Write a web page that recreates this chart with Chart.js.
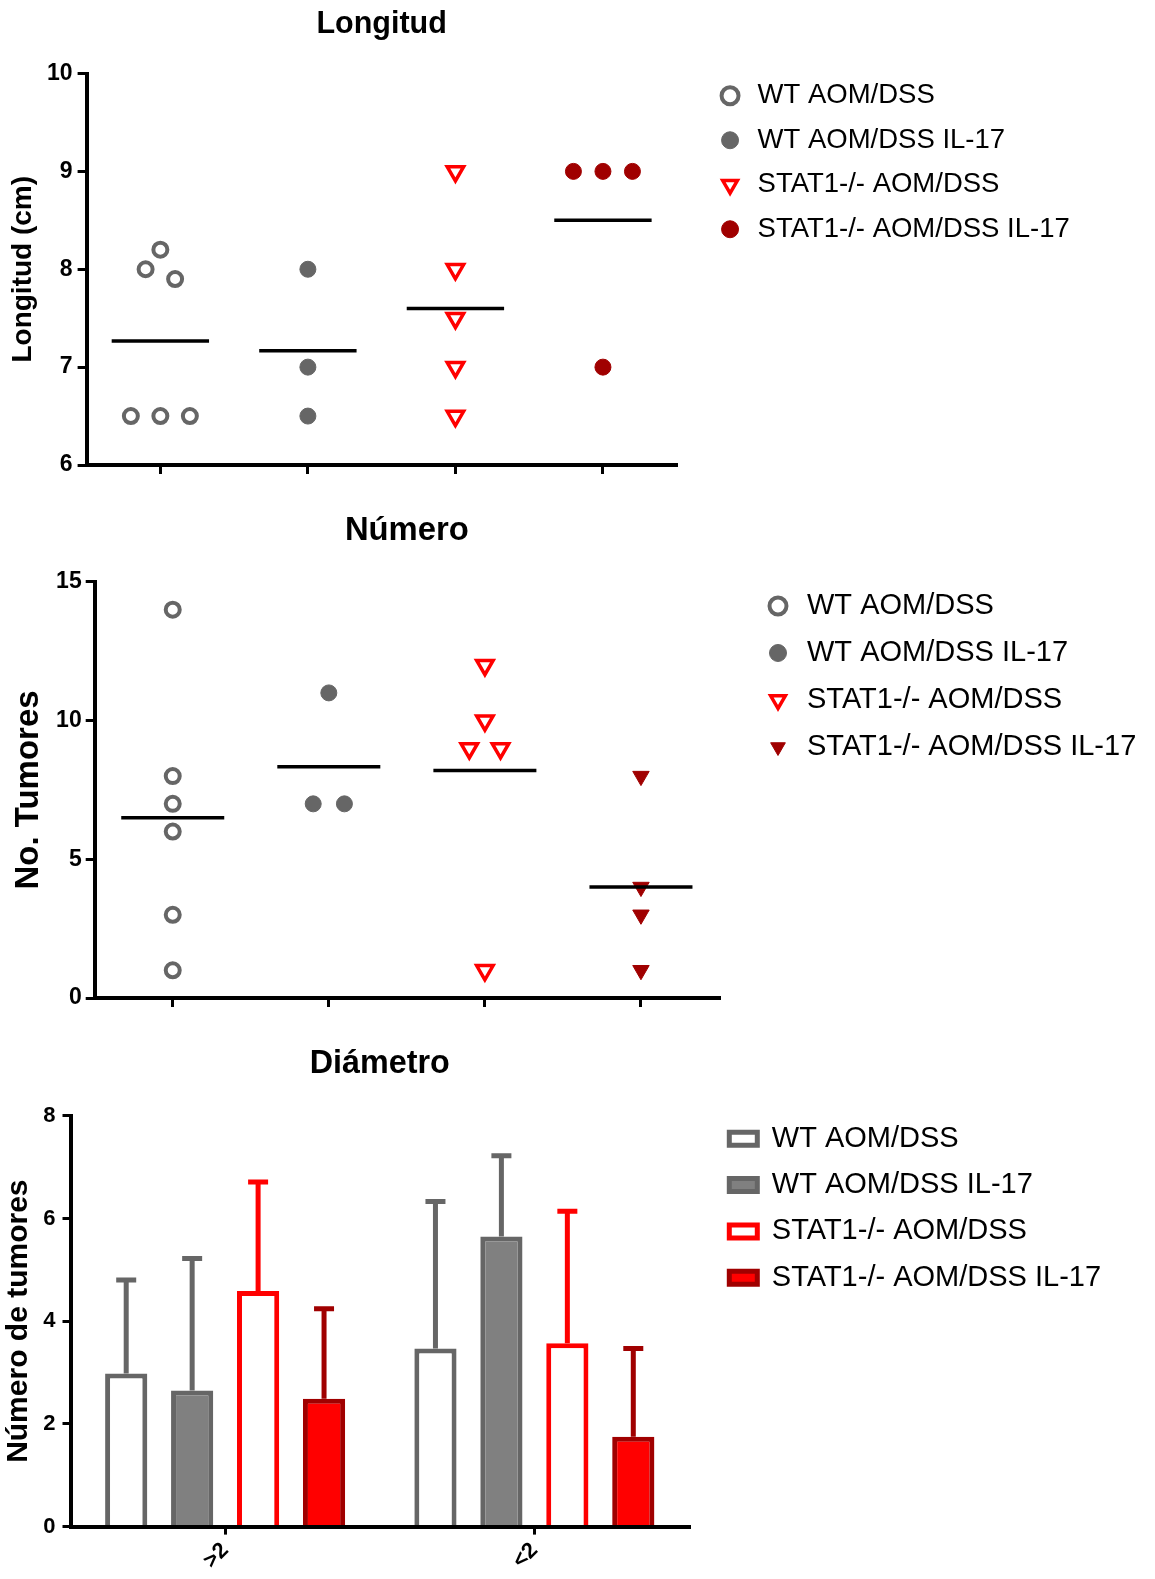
<!DOCTYPE html>
<html>
<head>
<meta charset="utf-8">
<script src="https://cdn.jsdelivr.net/npm/chart.js@4.4.1/dist/chart.umd.min.js"></script>
<style>
  html, body { margin: 0; padding: 0; background: #ffffff; }
  .panel { position: absolute; left: 0; width: 1155px; }
  canvas { display: block; }
</style>
</head>
<body>
<div class="panel" style="top:0;height:500px"><canvas id="c1" width="1155" height="500"></canvas></div>
<div class="panel" style="top:500px;height:530px"><canvas id="c2" width="1155" height="530"></canvas></div>
<div class="panel" style="top:1030px;height:549px"><canvas id="c3" width="1155" height="549"></canvas></div>
<script>
// ---------------- DATA ----------------
const grupos = ['WT AOM/DSS', 'WT AOM/DSS IL-17', 'STAT1-/- AOM/DSS', 'STAT1-/- AOM/DSS IL-17'];

// Longitud (cm)
const longitudWT        = [8.2, 8.0, 7.9, 6.5, 6.5, 6.5];
const longitudWTIL17    = [8.0, 7.0, 6.5];
const longitudSTAT1     = [9.0, 8.0, 7.5, 7.0, 6.5];
const longitudSTAT1IL17 = [9.0, 9.0, 9.0, 7.0];
const longitudTicks     = [6, 7, 8, 9, 10];

// No. Tumores
const numeroWT        = [14, 8, 7, 6, 3, 1];
const numeroWTIL17    = [11, 7, 7];
const numeroSTAT1     = [12, 10, 9, 9, 1];
const numeroSTAT1IL17 = [8, 4, 3, 1];
const numeroTicks     = [0, 5, 10, 15];

// Diámetro: media y desviación (barra de error superior)
const diametroCategorias = ['>2', '<2'];
const diamWT          = [2.98, 3.47];
const diamWTsd        = [1.82, 2.86];
const diamWTIL17      = [2.65, 5.65];
const diamWTIL17sd    = [2.57, 1.57];
const diamSTAT1       = [4.59, 3.57];
const diamSTAT1sd     = [2.12, 2.57];
const diamSTAT1IL17   = [2.49, 1.75];
const diamSTAT1IL17sd = [1.75, 1.72];
const diametroTicks   = [0, 2, 4, 6, 8];

// ---------------- STYLE ----------------
const GRIS = '#666666', GRIS_RELLENO = '#808080', ROJO = '#ff0000', ROJO_OSCURO = '#a00000';
const FAMILIA = "'Liberation Sans', Arial, Helvetica, sans-serif";
Chart.defaults.font.family = FAMILIA;
Chart.defaults.color = '#000000';

// Legend placement plugin (moves the legend box to a fixed spot)
const posLeyenda = {
  id: 'posLeyenda',
  afterLayout(chart, args, opts) {
    const lg = chart.legend;
    if (!lg || opts.x == null) return;
    lg.left = opts.x; lg.top = opts.y;
    lg.right = chart.width; lg.bottom = chart.height;
  }
};

// Error bars (upper only) drawn through the y scale
const barrasError = {
  id: 'barrasError',
  afterDatasetsDraw(chart, args, opts) {
    const ctx = chart.ctx, ys = chart.scales.y;
    chart.data.datasets.forEach((ds, d) => {
      if (!ds.sd) return;
      const meta = chart.getDatasetMeta(d);
      meta.data.forEach((bar, i) => {
        const tope = ys.getPixelForValue(ds.data[i] + ds.sd[i]);
        ctx.save();
        ctx.strokeStyle = ds.colorError;
        ctx.lineWidth = opts.grosor;
        ctx.lineCap = 'butt';
        ctx.beginPath();
        ctx.moveTo(bar.x, bar.y);
        ctx.lineTo(bar.x, tope);
        ctx.moveTo(bar.x - opts.tapa, tope);
        ctx.lineTo(bar.x + opts.tapa, tope);
        ctx.stroke();
        ctx.restore();
      });
    });
  }
};

// simple deterministic beeswarm (offsets in category units)
function enjambre(vals, pxX, pxY, paso, distMin) {
  const off = vals.map(() => null);
  const colocados = [];
  const iguales = {};
  vals.forEach((v, i) => { (iguales[v] = iguales[v] || []).push(i); });
  Object.values(iguales).forEach(idx => {
    if (idx.length > 1) idx.forEach((k, j) => { off[k] = 2 * paso * (j - (idx.length - 1) / 2); colocados.push(k); });
  });
  vals.forEach((v, i) => {
    if (off[i] !== null) return;
    const cands = [0, -paso, paso, -2 * paso, 2 * paso, -3 * paso, 3 * paso];
    for (const c of cands) {
      const ok = colocados.every(k => Math.hypot((off[k] - c) * pxX, (vals[k] - v) * pxY) >= distMin);
      if (ok) { off[i] = c; break; }
    }
    if (off[i] === null) off[i] = 0;
    colocados.push(i);
  });
  return off;
}

function ejeComun(extra) {
  return Object.assign({
    grid: { display: true, drawOnChartArea: false, drawTicks: true, tickLength: 9, lineWidth: 3, color: '#000' },
    border: { display: true, color: '#000', width: 4 }
  }, extra);
}

function crearDispersion(id, conf) {
  const datasets = conf.series.map((vals, s) => Object.assign({
    label: grupos[s],
    data: vals.map(v => ({ x: s, y: v })),
    showLine: false
  }, conf.estilos[s]));
  conf.series.forEach((vals, s) => {
    const media = vals.reduce((a, b) => a + b, 0) / vals.length;
    datasets.push({
      label: 'Media', data: [{ x: s - 0.33, y: media }, { x: s + 0.33, y: media }],
      showLine: true, borderColor: '#000', backgroundColor: '#000', borderWidth: 3.5,
      pointRadius: 0, order: -1
    });
  });
  const nCat = conf.series.length;
  const chart = new Chart(document.getElementById(id), {
    type: 'scatter',
    data: { datasets },
    plugins: [posLeyenda],
    options: {
      responsive: false, animation: false, devicePixelRatio: 1,
      layout: { padding: { left: 0, top: 0, right: conf.padRight, bottom: 0 } },
      plugins: {
        tooltip: { enabled: false },
        title: { display: true, fullSize: false, text: conf.titulo, color: '#000',
                 font: { size: conf.tituloFont, weight: 'bold' }, padding: conf.tituloPad },
        legend: {
          display: true, position: 'right', align: 'start', maxWidth: 50,
          labels: { usePointStyle: true, boxWidth: conf.leyFont, boxHeight: 12, padding: conf.leyPad,
                    textAlign: 'left', color: '#000', font: { size: conf.leyFont },
                    filter: item => item.datasetIndex < nCat }
        },
        posLeyenda: conf.leyPos
      },
      scales: {
        x: ejeComun({
          type: 'linear', position: 'bottom', min: -0.5, max: nCat - 0.5,
          afterBuildTicks: s => { s.ticks = conf.series.map((_, i) => ({ value: i })); },
          ticks: { display: false },
          afterFit: s => { s.height = conf.altoX; }
        }),
        y: ejeComun({
          min: conf.ticks[0], max: conf.ticks[conf.ticks.length - 1],
          afterBuildTicks: s => { s.ticks = conf.ticks.map(v => ({ value: v })); },
          ticks: { color: '#000', font: { size: conf.tickFont, weight: 'bold' }, padding: conf.tickPad },
          title: { display: true, text: conf.tituloY, color: '#000',
                   font: { size: conf.tituloYFont, weight: 'bold' }, padding: { top: conf.tituloYPad, bottom: 0 } },
          afterFit: s => { s.width = conf.anchoY; }
        })
      }
    }
  });
  const xs = chart.scales.x, ys = chart.scales.y;
  const pxX = Math.abs(xs.getPixelForValue(1) - xs.getPixelForValue(0));
  const pxY = Math.abs(ys.getPixelForValue(1) - ys.getPixelForValue(0));
  conf.series.forEach((vals, s) => {
    const off = enjambre(vals, pxX, pxY, 0.1, 22);
    chart.data.datasets[s].data = vals.map((v, i) => ({ x: s + off[i], y: v }));
  });
  chart.update('none');
  return chart;
}

const estCirculoAbierto = { pointStyle: 'circle', pointRadius: 7, pointBorderWidth: 4, pointBackgroundColor: '#ffffff', pointBorderColor: GRIS, backgroundColor: '#ffffff', borderColor: GRIS, borderWidth: 4 };
const estCirculoGris    = { pointStyle: 'circle', pointRadius: 8, pointBorderWidth: 1, pointBackgroundColor: GRIS, pointBorderColor: GRIS, backgroundColor: GRIS, borderColor: GRIS, borderWidth: 1 };
const estTrianguloAbierto = { pointStyle: 'triangle', pointRotation: 180, pointRadius: 9.5, pointBorderWidth: 3.5, pointBackgroundColor: '#ffffff', pointBorderColor: ROJO, backgroundColor: '#ffffff', borderColor: ROJO, borderWidth: 3.5 };
const estCirculoRojo    = { pointStyle: 'circle', pointRadius: 8, pointBorderWidth: 1, pointBackgroundColor: ROJO_OSCURO, pointBorderColor: ROJO_OSCURO, backgroundColor: ROJO_OSCURO, borderColor: ROJO_OSCURO, borderWidth: 1 };
const estTrianguloRojo  = { pointStyle: 'triangle', pointRotation: 180, pointRadius: 9.5, pointBorderWidth: 1, pointBackgroundColor: ROJO_OSCURO, pointBorderColor: ROJO_OSCURO, backgroundColor: ROJO_OSCURO, borderColor: ROJO_OSCURO, borderWidth: 1 };

// ---------- Chart 1: Longitud ----------
crearDispersion('c1', {
  titulo: 'Longitud', tituloFont: 30.5, tituloPad: { top: 6.2, bottom: 30.7 },
  tituloY: 'Longitud (cm)', tituloYFont: 28, tituloYPad: 6,
  series: [longitudWT, longitudWTIL17, longitudSTAT1, longitudSTAT1IL17],
  estilos: [estCirculoAbierto, estCirculoGris, estTrianguloAbierto, estCirculoRojo],
  ticks: longitudTicks, tickFont: 23, tickPad: 5,
  anchoY: 86.6, altoX: 35, padRight: 428.3,
  leyFont: 27.5, leyPad: 17, leyPos: { x: 699.3, y: 65 }
});

// ---------- Chart 2: Número ----------
crearDispersion('c2', {
  titulo: 'Número', tituloFont: 32.8, tituloPad: { top: 10.9, bottom: 31.7 },
  tituloY: 'No. Tumores', tituloYFont: 33, tituloYPad: 9.4,
  series: [numeroWT, numeroWTIL17, numeroSTAT1, numeroSTAT1IL17],
  estilos: [estCirculoAbierto, estCirculoGris, estTrianguloAbierto, estTrianguloRojo],
  ticks: numeroTicks, tickFont: 23, tickPad: 4,
  anchoY: 94.7, altoX: 32, padRight: 386,
  leyFont: 29, leyPad: 18, leyPos: { x: 745.5, y: 73.5 }
});

// ---------- Chart 3: Diámetro ----------
new Chart(document.getElementById('c3'), {
  type: 'bar',
  data: {
    labels: diametroCategorias,
    datasets: [
      { label: grupos[0], data: diamWT, sd: diamWTsd, colorError: GRIS, backgroundColor: '#ffffff', borderColor: GRIS },
      { label: grupos[1], data: diamWTIL17, sd: diamWTIL17sd, colorError: GRIS, backgroundColor: GRIS_RELLENO, borderColor: GRIS },
      { label: grupos[2], data: diamSTAT1, sd: diamSTAT1sd, colorError: ROJO, backgroundColor: '#ffffff', borderColor: ROJO },
      { label: grupos[3], data: diamSTAT1IL17, sd: diamSTAT1IL17sd, colorError: ROJO_OSCURO, backgroundColor: ROJO, borderColor: ROJO_OSCURO }
    ]
  },
  plugins: [posLeyenda, barrasError],
  options: {
    responsive: false, animation: false, devicePixelRatio: 1,
    datasets: { bar: { borderWidth: 5, borderSkipped: 'start', categoryPercentage: 0.853, barPercentage: 0.64 } },
    layout: { padding: { left: 0, top: 0, right: 416, bottom: 0 } },
    plugins: {
      tooltip: { enabled: false },
      title: { display: true, fullSize: false, text: 'Diámetro', color: '#000',
               font: { size: 32.3, weight: 'bold' }, padding: { top: 15.1, bottom: 31.9 } },
      legend: {
        display: true, position: 'right', align: 'start', maxWidth: 50,
        labels: { boxWidth: 28, boxHeight: 13, padding: 17.3, textAlign: 'left', color: '#000', font: { size: 29 } }
      },
      posLeyenda: { x: 712, y: 77 },
      barrasError: { grosor: 5, tapa: 10 }
    },
    scales: {
      x: ejeComun({
        type: 'category', offset: true,
        grid: { display: true, offset: false, drawOnChartArea: false, drawTicks: true, tickLength: 8, lineWidth: 3, color: '#000' },
        ticks: { color: '#000', font: { size: 22, weight: 'bold' }, minRotation: 45, maxRotation: 45, padding: 3 },
        afterFit: s => { s.height = 52.4; }
      }),
      y: ejeComun({
        min: diametroTicks[0], max: diametroTicks[diametroTicks.length - 1],
        afterBuildTicks: s => { s.ticks = diametroTicks.map(v => ({ value: v })); },
        grid: { display: true, drawOnChartArea: false, drawTicks: true, tickLength: 8, lineWidth: 3, color: '#000' },
        ticks: { color: '#000', font: { size: 22, weight: 'bold' }, padding: 7 },
        title: { display: true, text: 'Número de tumores', color: '#000',
                 font: { size: 30, weight: 'bold' }, padding: { top: 1.1, bottom: 0 } },
        afterFit: s => { s.width = 70.5; }
      })
    }
  }
});
</script>
</body>
</html>
